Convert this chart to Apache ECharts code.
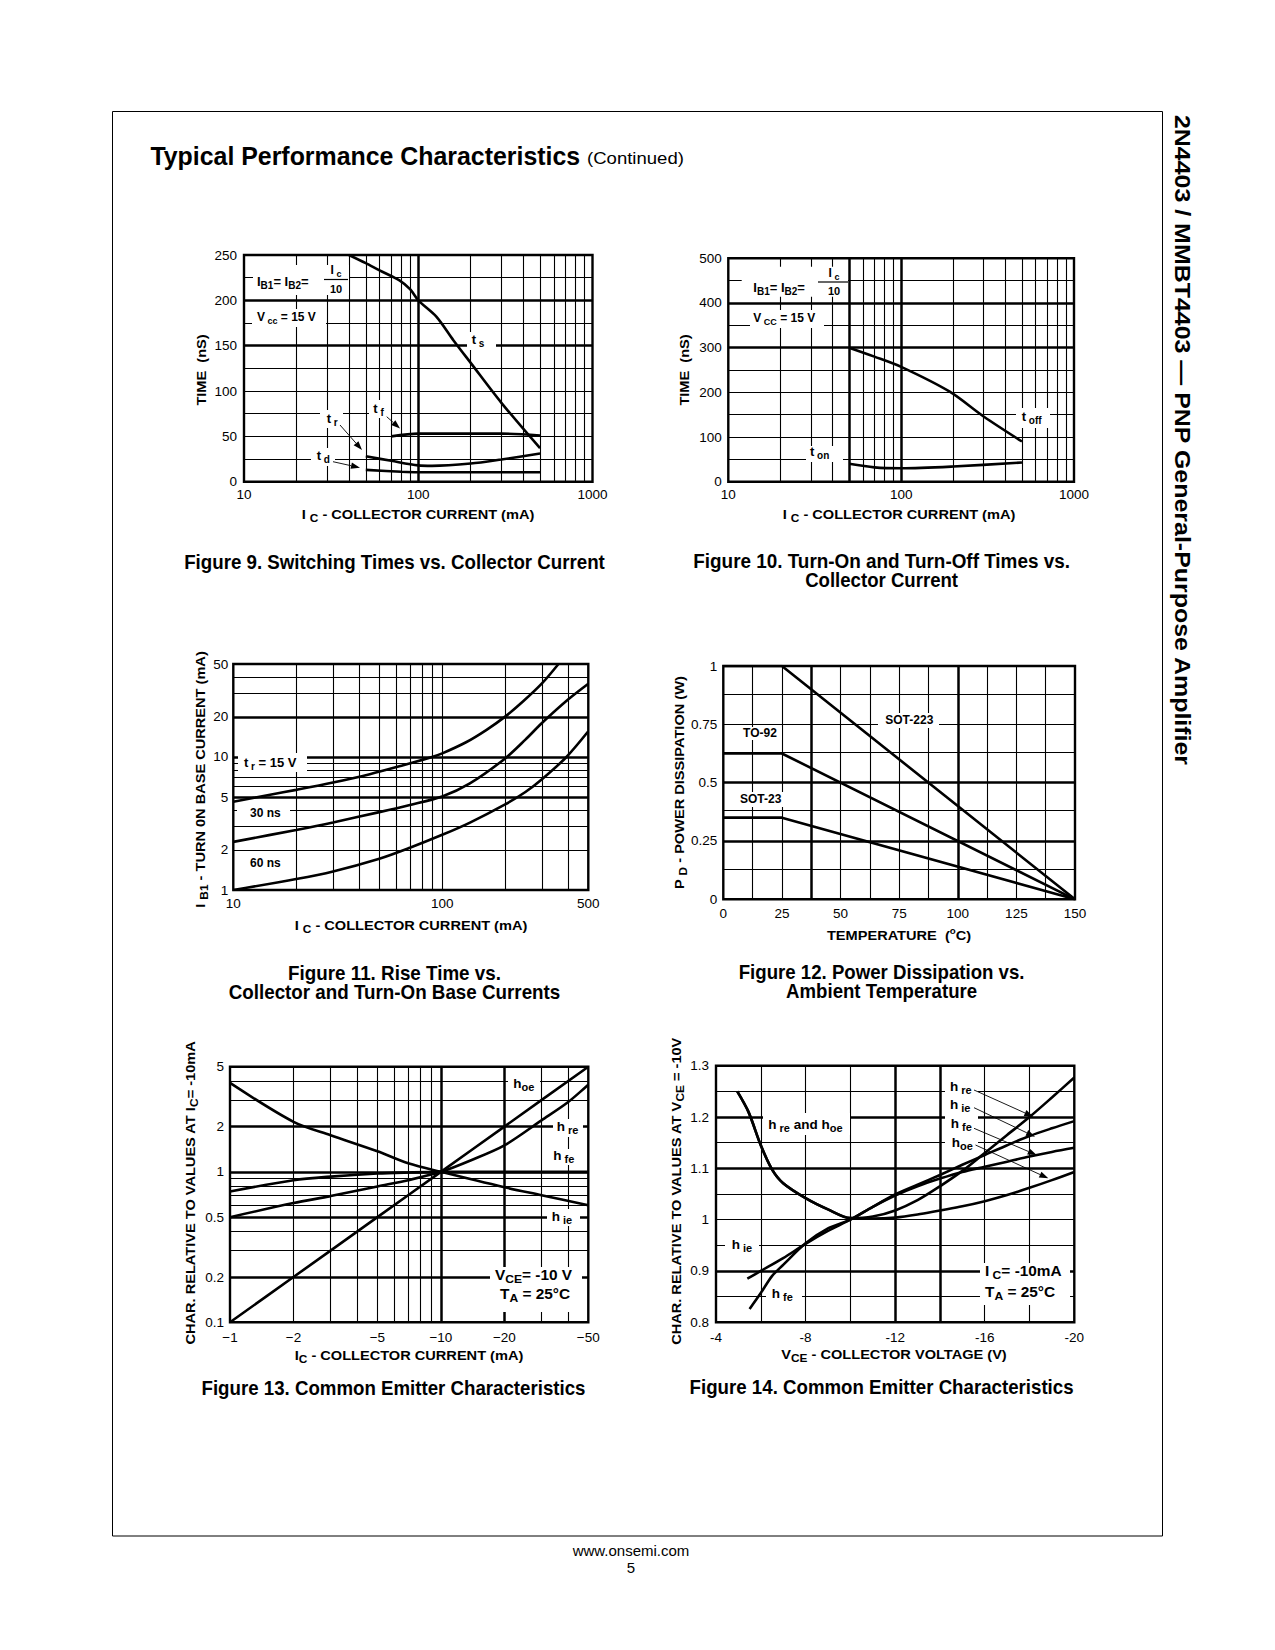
<!DOCTYPE html>
<html><head><meta charset="utf-8">
<script src="https://cdn.jsdelivr.net/npm/echarts@6/dist/echarts.min.js"></script>
<style>html,body{margin:0;padding:0;background:#fff}#c{width:1275px;height:1650px}</style>
</head><body><div id="c"></div>
<script>
// ---------------- DATA ----------------
// Figure 9: switching times vs collector current  [Ic (mA), time (ns)]
const f9_ts = [[40,250],[50,241],[60,233],[78,222],[90,212],[100,200],[127,182],[159,156],[200,131],[300,87],[500,37]];
const f9_tf = [[70,50],[100,53],[300,53],[500,51]];
const f9_tr = [[50,28],[70,23],[100,18],[120,17.5],[200,20],[300,24.5],[500,31]];
const f9_td = [[50,13],[80,11],[100,10.5],[500,10.5]];
// Figure 10: turn-on / turn-off times
const f10_toff = [[50,300],[70,280],[100,257],[190,202],[300,146],[500,90]];
const f10_ton = [[50,40],[70,32],[100,30],[200,34],[500,43]];
// Figure 11: IB1 vs IC for tr = 15, 30, 60 ns
const f11_15 = [[10,4.6],[15,5.2],[20,5.66],[30,6.43],[45,7.43],[65,8.67],[87,9.87],[100,10.65],[130,12.9],[163,16],[200,20.1],[244,26.2],[300,35.7],[360,50]];
const f11_30 = [[10,2.3],[20,2.83],[30,3.22],[50,3.85],[70,4.36],[100,5.05],[135,6.3],[200,9.75],[250,13.5],[300,18],[400,27],[500,35.5]];
const f11_60 = [[10,1],[20,1.21],[30,1.38],[50,1.72],[70,2.08],[100,2.6],[135,3.2],[200,4.4],[250,5.45],[300,6.8],[393,10],[500,15.6]];
const f11_xTicks = [10,100,500];
const f11_yTicks = [1,2,5,10,20,50];
// Figure 12: power dissipation vs temperature
const f12_temp = [0,25,150];
const f12_sot223 = [1,1,0];
const f12_to92 = [0.625,0.625,0];
const f12_sot23 = [0.35,0.35,0];
// Figure 13: common emitter characteristics vs |Ic| (mA)
const f13_hoe = [[1,0.1],[2,0.2],[5,0.5],[10,1],[20,2],[50,5]];
const f13_hre = [[1,0.5],[2,0.62],[3,0.69],[5,0.8],[7,0.88],[10,1],[14,1.2],[20,1.5],[30,2.2],[40,2.9],[50,3.8]];
const f13_hfe = [[1,0.74],[2,0.88],[3,0.93],[5,0.975],[7,0.99],[10,1],[20,1],[50,1]];
const f13_hie = [[1,3.9],[2,2.15],[3,1.75],[5,1.37],[7,1.14],[10,1],[20,0.79],[30,0.7],[50,0.6]];
const f13_xTicks = [1,2,5,10,20,50];
const f13_yTicks = [0.1,0.2,0.5,1,2,5];
// Figure 14: common emitter characteristics vs VCE (V)
const f14_hre = [[-4.95,1.25],[-5.45,1.21],[-6,1.145],[-6.5,1.098],[-7,1.071],[-8,1.042],[-9,1.02],[-10,1.003],[-11,1.006],[-12,1.018],[-13,1.038],[-14,1.065],[-15,1.095],[-16,1.13],[-17,1.165],[-18,1.2],[-19,1.238],[-20,1.277]];
const f14_hoe = [[-4.95,1.25],[-5.45,1.21],[-6,1.145],[-6.5,1.098],[-7,1.071],[-8,1.042],[-9,1.02],[-10,1.003],[-11,1.002],[-12,1.004],[-13,1.01],[-14,1.018],[-15,1.026],[-16,1.036],[-17,1.048],[-18,1.062],[-19,1.077],[-20,1.093]];
const f14_hie = [[-5.4,0.885],[-6,0.9],[-7,0.925],[-8,0.953],[-9,0.978],[-10,1.0],[-11,1.025],[-12,1.049],[-13,1.068],[-14,1.087],[-15,1.107],[-16,1.126],[-17,1.145],[-18,1.163],[-19,1.178],[-20,1.192]];
const f14_hfe = [[-5.5,0.826],[-6,0.857],[-6.5,0.89],[-7,0.912],[-8,0.954],[-9,0.983],[-10,1.0],[-11,1.025],[-12,1.047],[-13,1.065],[-14,1.08],[-15,1.093],[-16,1.103],[-17,1.113],[-18,1.123],[-19,1.132],[-20,1.14]];

// ---------------- GRID LINE VALUES (axis config) ----------------
const GL = [
  {x:[20,30,40,50,60,70,80,90,200,300,400,500,600,700,800,900], xt:[100], y:[25,50,75,100,125,175,225], yt:[150,200]},
  {x:[20,30,40,60,70,80,90,200,300,400,500,600,700,800,900], xt:[50,100], y:[50,100,150,200,250,350,450], yt:[300,400]},
  {x:[20,30,40,50,60,70,80,90,100,200,300,400], xt:[], y:[2,3,4,6,7,8,9,30,40], yt:[5,10,20]},
  {x:[12.5,25,50,62.5,75,87.5,112.5,125,137.5], xt:[37.5,100], y:[0.125,0.375,0.625,0.75,0.875], yt:[0.25,0.5]},
  {x:[2,3,4,5,6,7,8,9,30,40], xt:[10,20], y:[0.3,0.4,0.6,0.7,0.8,0.9,3,4], yt:[0.2,0.5,1,2]},
  {x:[-6,-8,-10,-16,-18], xt:[-12,-14], y:[0.85,0.95,1.0,1.05,1.15,1.25], yt:[0.9,1.1,1.2]}
];

// ---------------- STYLE ----------------
const SANS = '"Liberation Sans", Arial, Helvetica, sans-serif';
const THIN = 1.1, THICK = 2.5, CURVE = 2.6, TICKFS = 13.5;

const GRIDS = [
  {left:244, top:255, width:348.5, height:226.7},
  {left:728.3, top:258.3, width:345.7, height:223.4},
  {left:233.3, top:664, width:355, height:226},
  {left:723.3, top:666, width:351.7, height:233.3},
  {left:230, top:1066.7, width:358.3, height:255.6},
  {left:716, top:1065.7, width:358.3, height:256.6}
].map(g => Object.assign({show:true, borderColor:'#000', borderWidth:2.4, backgroundColor:'rgba(0,0,0,0)', containLabel:false, outerBoundsMode:'none'}, g));

const fmtNum = v => String(+(+v).toPrecision(6));
const lab = (m, extra) => Object.assign({color:'#000', fontFamily:SANS, fontSize:TICKFS, margin:m, rotate:0, showMinLabel:true, showMaxLabel:true}, extra || {});
function ax(gi, cfg) {
  return Object.assign({gridIndex:gi, axisLine:{show:false}, axisTick:{show:false}, splitLine:{show:false},
    minorTick:{show:false}, minorSplitLine:{show:false}}, cfg);
}
const xAxis = [
  ax(0, {type:'log', logBase:10, min:10, max:1000, axisLabel: lab(6, {formatter: fmtNum})}),
  ax(1, {type:'log', logBase:10, min:10, max:1000, axisLabel: lab(6, {formatter: fmtNum})}),
  ax(2, {type:'log', logBase:10, min:10, max:500, axisLabel: lab(6, {customValues: f11_xTicks, formatter: fmtNum})}),
  ax(3, {type:'value', min:0, max:150, interval:25, axisLabel: lab(7)}),
  ax(4, {type:'log', logBase:10, min:1, max:50, axisLabel: lab(8, {customValues: f13_xTicks, formatter: v => '\u2212' + fmtNum(v)})}),
  ax(5, {type:'value', min:-20, max:-4, interval:4, inverse:true, axisLabel: lab(8)})
];
const yAxis = [
  ax(0, {type:'value', min:0, max:250, interval:50, axisLabel: lab(7)}),
  ax(1, {type:'value', min:0, max:500, interval:100, axisLabel: lab(6.5)}),
  ax(2, {type:'log', logBase:10, min:1, max:50, axisLabel: {show:false}}),
  ax(3, {type:'value', min:0, max:1, interval:0.25, axisLabel: lab(6)}),
  ax(4, {type:'log', logBase:10, min:0.1, max:5, axisLabel: {show:false}}),
  ax(5, {type:'value', min:0.8, max:1.3, interval:0.1, axisLabel: lab(7, {formatter: fmtNum})})
];

function gridSeries(gi) {
  const g = GL[gi], d = [];
  g.x.forEach(v => d.push({xAxis:v, lineStyle:{width:THIN}}));
  g.xt.forEach(v => d.push({xAxis:v, lineStyle:{width:THICK}}));
  g.y.forEach(v => d.push({yAxis:v, lineStyle:{width:THIN}}));
  g.yt.forEach(v => d.push({yAxis:v, lineStyle:{width:THICK}}));
  return {type:'line', xAxisIndex:gi, yAxisIndex:gi, data:[], z:1, silent:true,
    markLine:{silent:true, symbol:['none','none'], label:{show:false}, animation:false,
      lineStyle:{color:'#000', type:'solid', width:THIN}, emphasis:{disabled:true}, data:d}};
}
function curve(name, gi, data, smooth) {
  return {type:'line', name, xAxisIndex:gi, yAxisIndex:gi, data, showSymbol:false, symbol:'none',
    smooth: smooth === undefined ? 0.3 : smooth, lineStyle:{color:'#000', width:CURVE}, z:5, silent:true, animation:false};
}
const pairs = (xs, ys) => xs.map((x, i) => [x, ys[i]]);

const series = [
  gridSeries(0), gridSeries(1), gridSeries(2), gridSeries(3), gridSeries(4), gridSeries(5),
  curve('ts', 0, f9_ts), curve('tf', 0, f9_tf), curve('tr', 0, f9_tr), curve('td', 0, f9_td),
  curve('toff', 1, f10_toff), curve('ton', 1, f10_ton),
  curve('15ns', 2, f11_15), curve('30ns', 2, f11_30), curve('60ns', 2, f11_60),
  curve('SOT-223', 3, pairs(f12_temp, f12_sot223), false), curve('TO-92', 3, pairs(f12_temp, f12_to92), false), curve('SOT-23', 3, pairs(f12_temp, f12_sot23), false),
  curve('hoe', 4, f13_hoe), curve('hre', 4, f13_hre), curve('hfe', 4, f13_hfe), curve('hie', 4, f13_hie),
  curve('hre', 5, f14_hre), curve('hoe', 5, f14_hoe), curve('hie', 5, f14_hie), curve('hfe', 5, f14_hfe)
];

// ---------------- TEXT / ANNOTATIONS ----------------
const mctx = document.createElement('canvas').getContext('2d');
function measure(text, fs, fw, fam) { mctx.font = fw + ' ' + fs + 'px ' + fam; return mctx.measureText(text).width; }
function richSet(fs, fam, fw) {
  return {
    s: {fontSize: Math.round(fs * 0.78), fontFamily: fam, fontWeight: fw, fill:'#000', padding:[Math.round(fs * 0.6),0,0,0]},
    p: {fontSize: Math.round(fs * 0.7), fontFamily: fam, fontWeight: fw, fill:'#000', padding:[0,0,Math.round(fs * 0.5),0]}
  };
}
function T(x, y, text, o) {
  o = o || {};
  const fs = o.fs || 12, fam = o.fam || SANS, fw = o.fw || 'bold';
  let sx = o.sx || 1;
  if (o.fitW) sx = o.fitW / measure(text, fs, fw, fam);
  return {type:'text', x, y, rotation: o.rot || 0, scaleX: sx, z:50, silent:true,
    style:{text, x:0, y:0, fill:'#000', fontSize:fs, fontFamily:fam, fontWeight:fw,
      align: o.al || 'left', verticalAlign:'middle', rich: Object.assign(richSet(fs, fam, fw), o.rich || {})}};
}
function R(x1, y1, x2, y2) {
  return {type:'rect', z:40, silent:true, shape:{x:x1, y:y1, width:x2 - x1, height:y2 - y1}, style:{fill:'#fff'}};
}
function Ln(x1, y1, x2, y2, w) {
  return {type:'line', z:50, silent:true, shape:{x1, y1, x2, y2}, style:{stroke:'#000', lineWidth: w || 1}};
}
function arrow(x1, y1, x2, y2) {
  const a = Math.atan2(y2 - y1, x2 - x1), L = 9, W = 3.2;
  const bx = x2 - L * Math.cos(a), by = y2 - L * Math.sin(a);
  const px = -Math.sin(a) * W, py = Math.cos(a) * W;
  return [Ln(x1, y1, bx, by, 0.9),
    {type:'polygon', z:50, silent:true, shape:{points:[[x2, y2],[bx + px, by + py],[bx - px, by - py]]}, style:{fill:'#000'}}];
}
const UP = Math.PI / 2, DOWN = -Math.PI / 2;

const G = [];
// page frame, heading, side title, footer
G.push({type:'rect', z:1, silent:true, shape:{x:112.5, y:111.5, width:1050, height:1424.5}, style:{fill:'none', stroke:'#000', lineWidth:1}});
G.push(T(150.4, 156, 'Typical Performance Characteristics', {fs:25, fitW:430}));
G.push(T(587, 158, '(Continued)', {fs:17, fw:'normal', fitW:97}));
G.push(T(1183, 440, '2N4403 / MMBT4403 \u2014 PNP General-Purpose Amplifier', {fs:23, rot:DOWN, al:'center', fitW:652}));
G.push(T(631, 1550, 'www.onsemi.com', {fs:15, fw:'normal', al:'center'}));
G.push(T(631, 1567, '5', {fs:15, fw:'normal', al:'center'}));

// captions (condensed look obtained by horizontal scaling to the reference width)
const cap = (x, y, s, w) => G.push(T(x, y, s, {fs:20, al:'center', fitW:w}));
cap(394.5, 562, 'Figure 9. Switching Times vs. Collector Current', 421);
cap(881.6, 561, 'Figure 10. Turn-On and Turn-Off Times vs.', 377);
cap(881.6, 580, 'Collector Current', 153);
cap(394.5, 973, 'Figure 11. Rise Time vs.', 213);
cap(394.5, 992, 'Collector and Turn-On Base Currents', 332);
cap(881.6, 972, 'Figure 12. Power Dissipation vs.', 286);
cap(881.6, 991, 'Ambient Temperature', 191);
cap(393.5, 1388, 'Figure 13. Common Emitter Characteristics', 384);
cap(881.6, 1387, 'Figure 14. Common Emitter Characteristics', 384);

// axis titles
const AT = {fs:13.5, sx:1.08, al:'center'};
const ATV = {fs:13.5, sx:1.08, al:'center', rot:UP};
G.push(T(418, 514, 'I {s|C} - COLLECTOR CURRENT (mA)', AT));
G.push(T(201, 370, 'TIME  (nS)', ATV));
G.push(T(899, 514, 'I {s|C} - COLLECTOR CURRENT (mA)', AT));
G.push(T(684, 370, 'TIME  (nS)', ATV));
G.push(T(411, 925, 'I {s|C} - COLLECTOR CURRENT (mA)', AT));
G.push(T(200, 779.5, 'I {s|B1} - TURN 0N BASE CURRENT (mA)', ATV));
G.push(T(899, 935, 'TEMPERATURE  ({p|o}C)', AT));
G.push(T(679, 782.7, 'P {s|D} - POWER DISSIPATION (W)', ATV));
G.push(T(409, 1355, 'I{s|C} - COLLECTOR CURRENT (mA)', AT));
G.push(T(190.5, 1193, 'CHAR. RELATIVE TO VALUES AT I{s|C}= -10mA', ATV));
G.push(T(894, 1354, 'V{s|CE} - COLLECTOR VOLTAGE (V)', AT));
G.push(T(676.5, 1191.4, 'CHAR. RELATIVE TO VALUES AT V{s|CE} = -10V', ATV));

// Figure 9 annotations
const L9 = {fs:13};
G.push(R(253, 265, 349, 295), T(257, 281, 'I{s|B1}= I{s|B2}=', L9), T(336, 270, 'I{s| c}', {al:'center', fs:12}),
  Ln(324, 279.5, 348, 279.5, 1.2), T(336, 288.5, '10', {al:'center', fs:11}));
G.push(R(252, 309, 326, 327), T(257, 317, 'V{s| cc} = 15 V', {fs:12}));
G.push(R(467, 332, 496, 350), T(471.7, 339, 't{s| s}', L9));
G.push(R(369, 400, 391, 418), T(373.3, 408, 't{s| f}', L9));
G.push(R(320, 410, 343, 428), T(326.7, 418, 't{s| r}', L9));
G.push(R(311, 448, 335, 466), T(316.7, 455, 't{s| d}', L9));
G.push(...arrow(386.7, 416.7, 400, 428.5), ...arrow(340, 425, 362, 450), ...arrow(333, 461.7, 360, 467.7));

// Figure 10 annotations
G.push(R(741.7, 266.7, 848, 296.7), T(753.3, 287, 'I{s|B1}= I{s|B2}=', L9), T(834, 273, 'I{s| c}', {al:'center', fs:12}),
  Ln(818, 282, 848, 282, 1.2), T(834, 291, '10', {al:'center', fs:11}));
G.push(R(750, 310, 824, 328), T(753.3, 318, 'V{s| CC} = 15 V', {fs:12}));
G.push(R(1016, 408, 1050, 428), T(1021.7, 416, 't{s| off}', L9));
G.push(R(806, 446, 843, 462), T(810, 451, 't{s| on}', L9));

// Figure 11 annotations
G.push(R(238, 753, 307, 772), T(244, 762, 't{s| r} = 15 V', L9));
G.push(R(237, 805, 290, 821), T(250, 813, '30 ns', {fs:12}));
G.push(R(240, 855, 288, 871), T(250, 863, '60 ns', {fs:12}));

// Figure 12 annotations
G.push(R(878, 713, 939, 728), T(909.3, 720, 'SOT-223', {al:'center'}));
G.push(R(739, 727, 782, 740), T(760, 733.3, 'TO-92', {al:'center'}));
G.push(R(735, 792, 786, 807), T(760.7, 799, 'SOT-23', {al:'center'}));

// Figure 13 annotations
const H = {fs:13.5};
const C14 = {fs:14, sx:1.1};
G.push(R(508, 1075, 540, 1096), T(513.3, 1083, 'h{s|oe}', H));
G.push(R(553, 1119, 583, 1137), T(556.7, 1126, 'h{s| re}', H));
G.push(R(550, 1149, 579, 1165), T(553.3, 1155, 'h{s| fe}', H));
G.push(R(547, 1209, 580, 1226), T(551.7, 1216, 'h{s| ie}', H));
G.push(R(490, 1267, 582, 1312), T(495, 1275, 'V{s|CE}= -10 V', C14), T(500, 1294, 'T{s|A} = 25\u00b0C', C14));

// Figure 14 annotations
G.push(R(763, 1113, 850, 1135), T(768.3, 1124, 'h{s| re} and h{s|oe}', H));
G.push(R(945, 1079, 978, 1151), T(950, 1086, 'h{s| re}', H), T(950, 1104, 'h{s| ie}', H),
  T(950.7, 1123, 'h{s| fe}', H), T(951.7, 1142, 'h{s|oe}', H));
G.push(...arrow(974, 1090, 1033.3, 1116.7), ...arrow(974, 1107.7, 1035, 1136.7),
  ...arrow(974, 1128.3, 1036.7, 1155), ...arrow(975.5, 1145, 1048.3, 1178.3));
G.push(R(725, 1237, 759, 1254), T(731.7, 1244, 'h{s| ie}', H));
G.push(R(766, 1287, 802, 1304), T(771.7, 1293, 'h{s| fe}', H));
G.push(R(980, 1263, 1070, 1305), T(985, 1271, 'I{s| C}= -10mA', C14), T(985, 1292, 'T{s|A} = 25\u00b0C', C14));

// ---------------- CHART ----------------
const chart = echarts.init(document.getElementById('c'), null, {renderer:'svg', width:1275, height:1650});
chart.setOption({
  animation:false,
  backgroundColor:'#fff',
  grid: GRIDS,
  xAxis, yAxis, series,
  graphic: {elements: G}
});
// 1-2-5 tick labels of the two logarithmic y axes, placed through the axis scales
const extra = [];
f11_yTicks.forEach(v => { const p = chart.convertToPixel({gridIndex:2}, [10, v]);
  extra.push(T(p[0] - 5, p[1], fmtNum(v), {fs:TICKFS, fw:'normal', al:'right'})); });
f13_yTicks.forEach(v => { const p = chart.convertToPixel({gridIndex:4}, [1, v]);
  extra.push(T(p[0] - 6, p[1], fmtNum(v), {fs:TICKFS, fw:'normal', al:'right'})); });
chart.setOption({graphic: {elements: G.concat(extra)}});
</script></body></html>
